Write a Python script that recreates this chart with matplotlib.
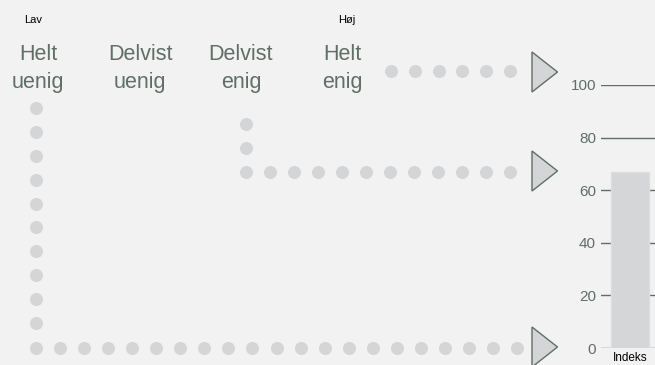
import matplotlib.pyplot as plt
from matplotlib.patches import Polygon
import numpy as np

# scale labels (two lines each) and the index value
labels_top = ['Helt', 'Delvist', 'Delvist', 'Helt']
labels_bottom = ['uenig', 'uenig', 'enig', 'enig']
label_x = [38, 140, 241, 342]
bar_names = ['Indeks']
bar_values = [67]
y_ticks = [0, 20, 40, 60, 80, 100]

bg = '#f2f2f2'
dot_col = '#d4d5d7'
txt_col = '#5f6f66'

plt.rcParams['font.family'] = ['Liberation Sans', 'DejaVu Sans']

fig = plt.figure(figsize=(6.55, 3.65), dpi=100)
fig.patch.set_facecolor(bg)

# decoration layer in pixel units
deco = fig.add_axes([0, 0, 1, 1])
deco.set_xlim(0, 655)
deco.set_ylim(365, 0)
deco.axis('off')

dot_size = 88
# long path: left column down, then along the bottom
deco.scatter(np.full(10, 36), np.linspace(108, 323, 10), s=dot_size, color=dot_col, lw=0)
deco.scatter(np.linspace(36, 517, 21), np.full(21, 348), s=dot_size, color=dot_col, lw=0)
# middle path
deco.scatter([246, 246], [124, 148], s=dot_size, color=dot_col, lw=0)
deco.scatter(np.linspace(246, 510, 12), np.full(12, 172), s=dot_size, color=dot_col, lw=0)
# top path
deco.scatter(np.linspace(391, 510, 6), np.full(6, 71), s=dot_size, color=dot_col, lw=0)

for cy in [72, 171, 347]:
    deco.add_patch(Polygon([(532, cy - 20), (532, cy + 20), (557.5, cy)],
                           closed=True, facecolor=dot_col, edgecolor=txt_col, lw=1))

deco.text(33, 20, 'Lav', ha='center', va='center', fontsize=8, color='black')
deco.text(347, 20, 'Høj', ha='center', va='center', fontsize=8, color='black')
for x, t1, t2 in zip(label_x, labels_top, labels_bottom):
    deco.text(x, 60, t1, ha='center', va='baseline', fontsize=15.5, color=txt_col)
    deco.text(x, 88, t2, ha='center', va='baseline', fontsize=15.5, color=txt_col)

# index bar on its own axis
ax = fig.add_axes([601 / 655, 17 / 365, 58 / 655, 263 / 365])
ax.set_facecolor('none')
ax.bar(bar_names, bar_values, width=0.67, color='#d5d6d8', edgecolor='#dddee0', lw=1)
ax.set_xlim(-0.5, 0.5)
ax.set_ylim(0, 100)
ax.set_yticks(y_ticks)
ax.grid(axis='y', color=txt_col, lw=1)
ax.set_axisbelow(True)
for s in ax.spines.values():
    s.set_visible(False)
ax.tick_params(axis='y', length=0, pad=3.6, labelsize=11, labelcolor=txt_col)
ax.tick_params(axis='x', length=0, pad=3, labelsize=8.5, labelcolor='black')

fig.savefig('out.png', dpi=100, facecolor=bg)
